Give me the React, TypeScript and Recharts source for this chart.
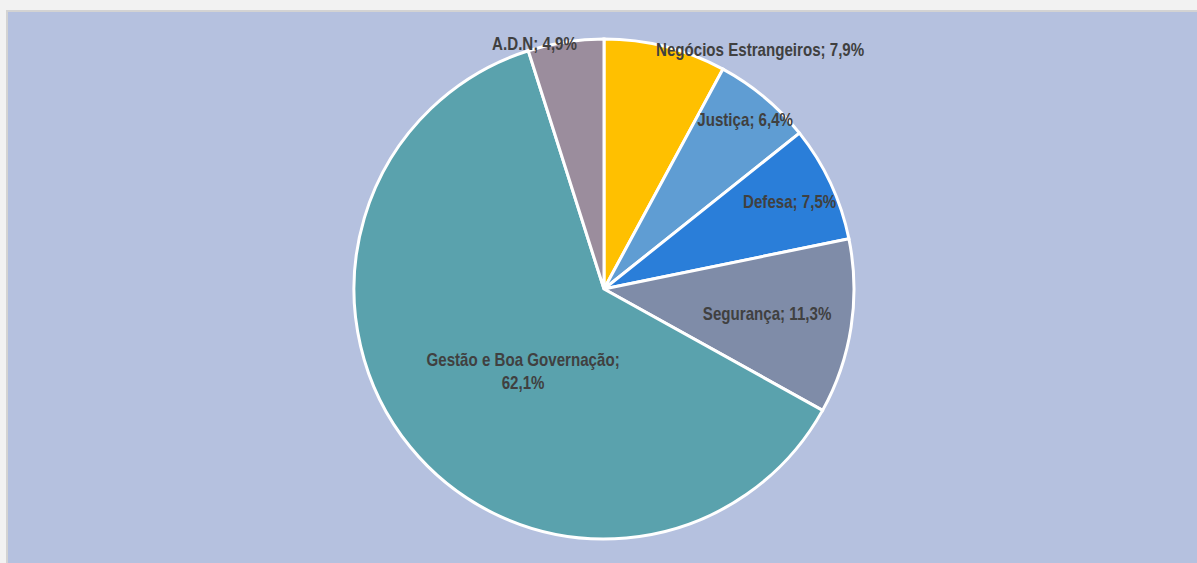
import { PieChart, Pie, Cell } from 'recharts';

const categories = ['Negócios Estrangeiros', 'Justiça', 'Defesa', 'Segurança', 'Gestão e Boa Governação', 'A.D.N'];
const shares = [7.9, 6.4, 7.5, 11.3, 62.1, 4.9];
const colors = ['#FFC000', '#5F9DD3', '#2A7ED9', '#7F8CA8', '#5AA2AD', '#9B8D9D'];
// where each label sits: radius as a share of the pie radius, angle shift in degrees
const labelPlacement = [
  { r: 1.14, shift: -19, lines: 1 },
  { r: 0.88, shift: 0, lines: 1 },
  { r: 0.82, shift: 0, lines: 1 },
  { r: 0.66, shift: 0, lines: 1 },
  { r: 0.46, shift: 6, lines: 2 },
  { r: 1.02, shift: 7, lines: 1 },
];

const data = categories.map((name, i) => ({ name, value: shares[i] }));
const fmt = (v: number) => v.toFixed(1).replace('.', ',') + '%';
const RAD = Math.PI / 180;

function SliceLabel(props: any) {
  const { cx, cy, midAngle, outerRadius, index, name, value } = props;
  const p = labelPlacement[index];
  const a = (midAngle + p.shift) * RAD;
  const x = cx + outerRadius * p.r * Math.cos(a);
  const y = cy - outerRadius * p.r * Math.sin(a);
  const style = { fontFamily: '"Liberation Sans", Arial, sans-serif', fontWeight: 700, fontSize: 18, fill: '#404040' };
  // narrow face look: squeeze horizontally
  const tf = `translate(${x},${y}) scale(0.84,1)`;
  if (p.lines === 2) {
    return (
      <text transform={tf} x={0} y={0} textAnchor="middle" style={style}>
        <tspan x={0} dy={-5}>{name};</tspan>
        <tspan x={0} dy={23}>{fmt(value)}</tspan>
      </text>
    );
  }
  return (
    <text transform={tf} x={0} y={0} textAnchor="middle" dominantBaseline="central" style={style}>
      {`${name}; ${fmt(value)}`}
    </text>
  );
}

export default function App() {
  return (
    <div style={{ position: 'absolute', left: 0, top: 0, width: 1197, height: 563, background: '#F2F2F2', overflow: 'hidden' }}>
      <div style={{ position: 'absolute', left: 6, top: 10, right: 0, bottom: 0, background: '#B5C1DF', borderTop: '2px solid #D3D3D3', borderLeft: '2px solid #D3D3D3' }} />
      <div style={{ position: 'absolute', left: 0, top: 0 }}>
        <PieChart width={1197} height={563} margin={{ top: 0, right: 0, bottom: 0, left: 0 }}>
          <Pie
            data={data}
            dataKey="value"
            nameKey="name"
            cx={604}
            cy={289}
            outerRadius={250}
            startAngle={90}
            endAngle={-270}
            stroke="#FFFFFF"
            strokeWidth={3}
            label={SliceLabel}
            labelLine={false}
            isAnimationActive={false}
          >
            {data.map((d, i) => (
              <Cell key={d.name} fill={colors[i]} />
            ))}
          </Pie>
        </PieChart>
      </div>
    </div>
  );
}
